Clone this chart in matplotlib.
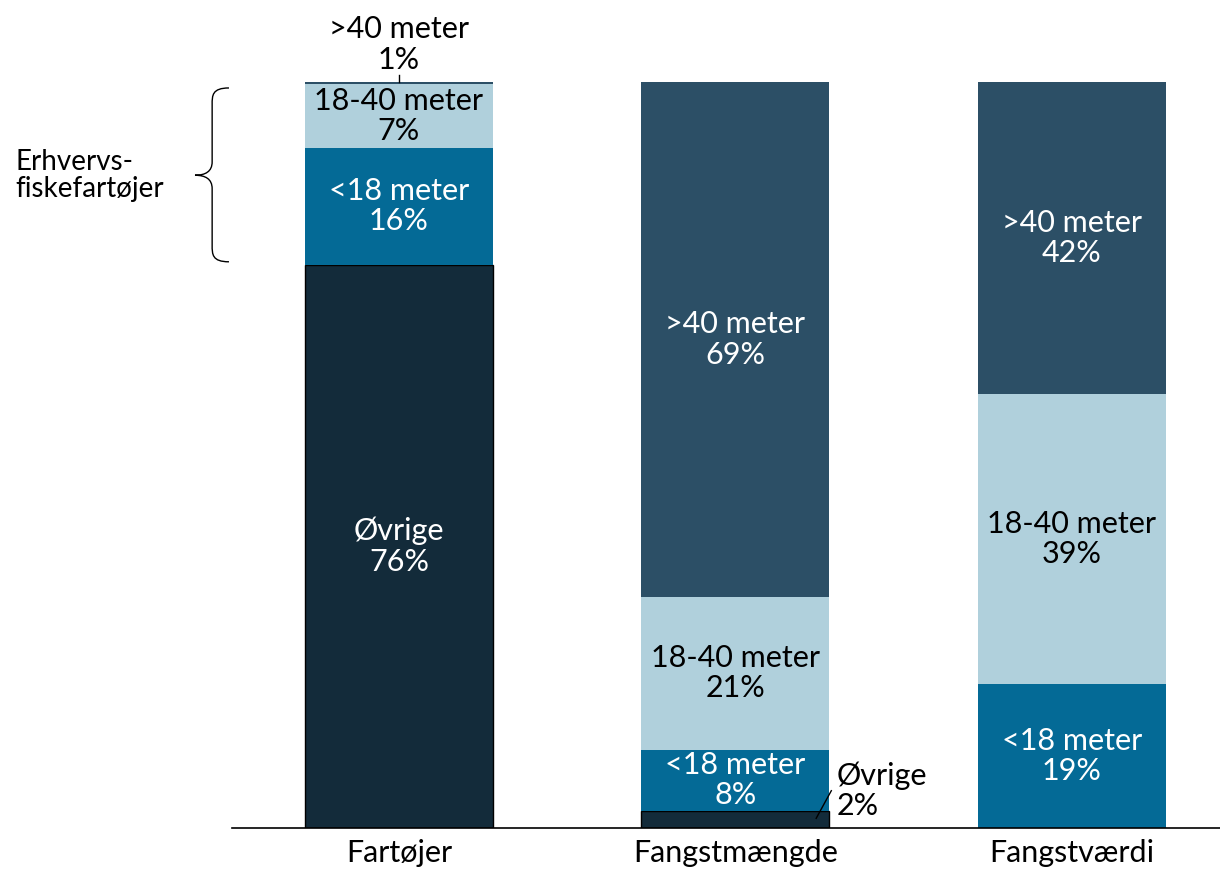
import matplotlib.pyplot as plt
from matplotlib.path import Path
from matplotlib.patches import PathPatch

plt.rcParams["font.family"] = ["Lato", "DejaVu Sans"]

categories = ["Fartøjer", "Fangstmængde", "Fangstværdi"]
series = ["Øvrige", "<18 meter", "18-40 meter", ">40 meter"]
# bar heights (share of total, %)
values = {
    "Øvrige": [75.5, 2.3, 0.0],
    "<18 meter": [15.7, 8.2, 19.3],
    "18-40 meter": [8.5, 20.5, 38.9],
    ">40 meter": [0.3, 69.0, 41.8],
}
# percentages as printed in the labels
shown = {
    "Øvrige": [76, 2, 0],
    "<18 meter": [16, 8, 19],
    "18-40 meter": [7, 21, 39],
    ">40 meter": [1, 69, 42],
}
colors = {
    "Øvrige": "#132b3a",
    "<18 meter": "#046a96",
    "18-40 meter": "#b0d0dc",
    ">40 meter": "#2c4f66",
}
text_colors = {
    "Øvrige": "white",
    "<18 meter": "white",
    "18-40 meter": "black",
    ">40 meter": "white",
}

FS = 22
LS = 1.1

fig = plt.figure(figsize=(12.2, 8.69), dpi=100)
ax = fig.add_axes([232 / 1220, 41 / 869, 988 / 1220, 746 / 869])

x = list(range(len(categories)))
width = 0.559
bottom = [0.0] * len(categories)
for s in series:
    vals = values[s]
    edge = "black" if s == "Øvrige" else "none"
    ax.bar(x, vals, width, bottom=bottom, color=colors[s],
           edgecolor=edge, linewidth=1.0 if s == "Øvrige" else 0)
    for i, v in enumerate(vals):
        if v < 5:
            continue
        ax.text(i, bottom[i] + v / 2, f"{s}\n{shown[s][i]}%",
                ha="center", va="center", fontsize=FS,
                color=text_colors[s], linespacing=LS)
    bottom = [b + v for b, v in zip(bottom, vals)]

# small segments labelled outside the bars
ax.plot([0, 0], [100, 101.0], color="black", lw=1, clip_on=False)
ax.text(0, 101.1, ">40 meter\n1%", ha="center", va="bottom",
        fontsize=FS, linespacing=LS)
ax.plot([1.24, 1.285], [1.3, 5.0], color="black", lw=1, clip_on=False)
ax.text(1.3, 5.0, "Øvrige\n2%", ha="left", va="center",
        fontsize=FS, linespacing=LS)

# curly brace for the commercial fishing vessels
bx, tip, xr = -0.555, -0.606, -0.505
y0, y1, ym = 99.2, 75.9, 87.5
verts = [
    (xr, y0), (bx, y0), (bx, y0 - 1.0), (bx, y0 - 2.2),
    (bx, ym + 1.8),
    (bx, ym + 0.5), (bx - 0.02, ym), (tip, ym),
    (bx - 0.02, ym), (bx, ym - 0.5), (bx, ym - 1.8),
    (bx, y1 + 2.2),
    (bx, y1 + 1.0), (bx, y1), (xr, y1),
]
codes = [Path.MOVETO, Path.CURVE4, Path.CURVE4, Path.CURVE4,
         Path.LINETO,
         Path.CURVE4, Path.CURVE4, Path.CURVE4,
         Path.CURVE4, Path.CURVE4, Path.CURVE4,
         Path.LINETO,
         Path.CURVE4, Path.CURVE4, Path.CURVE4]
ax.add_patch(PathPatch(Path(verts, codes), facecolor="none",
                       edgecolor="black", lw=1, clip_on=False))
ax.text(-1.14, ym, "Erhvervs-\nfiskefartøjer", ha="left", va="center",
        fontsize=20, linespacing=1.05)

ax.set_xlim(-0.496, 2.44)
ax.set_ylim(0, 100)
ax.set_xticks(x)
ax.set_xticklabels(categories, fontsize=FS)
ax.tick_params(axis="x", length=0, pad=8)
ax.set_yticks([])
for side in ["top", "right", "left"]:
    ax.spines[side].set_visible(False)
ax.spines["bottom"].set_linewidth(1.2)

fig.savefig("out.png", dpi=100)
